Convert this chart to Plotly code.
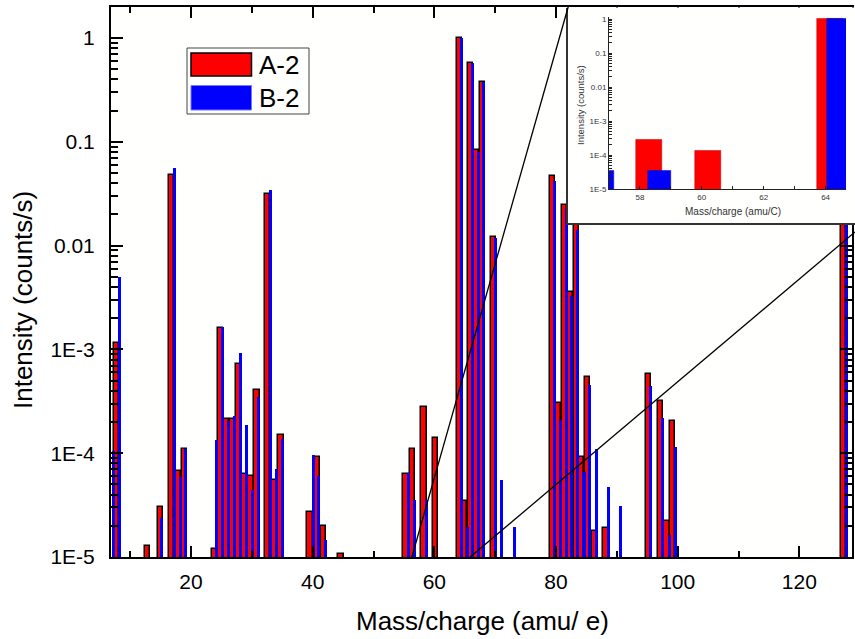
import plotly.graph_objects as go

# ---------------- data ----------------
a2_mass = [7.72, 12.9, 14.95, 16.8, 17.95, 18.9, 23.85, 24.85, 25.85, 26.8, 27.75, 28.7, 29.85, 30.85,
           32.6, 33.7, 34.8, 39.55, 40.75, 41.8, 44.65, 55.35, 56.35, 58.3, 60.2, 64.15, 65.0, 65.9,
           66.9, 67.85, 69.75, 79.37, 80.45, 81.4, 82.3, 83.3, 84.25, 85.2, 86.3, 88.2, 95.15, 97.2,
           98.25, 99.2, 127.3]
a2_int = [1.15e-3, 1.27e-5, 3.0e-5, 0.048, 6.8e-5, 1.1e-4, 1.19e-5, 1.61e-3, 2.15e-4, 2.15e-4, 7.26e-4,
          6.35e-5, 6.1e-5, 4.11e-4, 0.0315, 5.56e-5, 1.51e-4, 2.7e-5, 9.1e-5, 1.99e-5, 1.06e-5, 6.25e-5,
          1.09e-4, 2.78e-4, 1.4e-4, 1.0, 3.44e-5, 0.58, 0.084, 0.381, 0.012, 0.0472, 3.06e-4, 0.0248,
          3.6e-3, 0.0158, 9.3e-5, 5.48e-4, 1.77e-5, 1.9e-5, 5.82e-4, 3.22e-4, 2.24e-5, 2.05e-4, 0.2]

b2_mass = [7.2, 8.22, 15.2, 17.26, 18.25, 19.17, 24.2, 25.2, 26.15, 27.1, 28.1, 29.1, 30.1, 31.05,
           33.1, 34.1, 35.05, 40.1, 40.95, 42.05, 55.73, 56.8, 58.63, 64.4, 65.37, 66.2, 67.2, 68.1,
           70.0, 71.07, 73.1, 79.73, 80.75, 81.65, 82.58, 83.57, 84.6, 85.58, 86.6, 88.6, 90.58, 95.55,
           97.54, 98.58, 99.57, 127.75]
b2_int = [1.06e-4, 4.96e-3, 2.4e-5, 0.056, 5.9e-5, 1.1e-4, 1.33e-4, 1.63e-3, 2.05e-4, 2.3e-4, 9.27e-4,
          1.88e-4, 4.4e-5, 3.52e-4, 0.0344, 6.98e-5, 1.38e-4, 9.7e-5, 6.0e-5, 1.47e-5, 6.4e-5, 3.57e-5,
          3.57e-5, 1.0, 1.94e-5, 0.57, 0.08, 0.38, 0.0118, 5.55e-5, 1.94e-5, 0.042, 2.1e-4, 0.0225,
          3.25e-3, 0.0141, 6.6e-5, 4.56e-4, 1.09e-4, 4.7e-5, 3.07e-5, 4.4e-4, 2.19e-4, 1.62e-5, 1.15e-4, 0.2]

series_names = ["A-2", "B-2"]
x_major = [20, 40, 60, 80, 100, 120]
x_minor = [10, 30, 50, 70, 90, 110]
y_major = [1e-5, 1e-4, 1e-3, 1e-2, 1e-1, 1]
y_major_text = ["1E-5", "1E-4", "1E-3", "0.01", "0.1", "1"]
inset_x_ticks = [57, 58, 59, 60, 61, 62, 63, 64]
inset_x_text = ["", "58", "", "60", "", "62", "", "64"]
zoom_from, zoom_to = 56.3, 65.9

# ---------------- layout geometry ----------------
W, H = 855, 639
L, R, T, B = 111, 0, 7, 82
PW, PH = W - L - R, H - T - B
XR = [6.85, 128.65]
YR = [-5, 0.30]
main_xdom_end = (852 - L) / PW


def fx(px):
    return (px - L) / PW


def fy(py):
    return (H - B - py) / PH


def data_to_fx(x):
    return (x - XR[0]) / (XR[1] - XR[0]) * main_xdom_end


y_minor = [k * 10 ** e for e in range(-5, 1) for k in range(2, 10) if k * 10 ** e <= 2]
inset_y_ticks = y_major + [v for v in y_minor if v < 1]
inset_y_text = y_major_text + ["" for v in y_minor if v < 1]

FONT = "Arial, Liberation Sans, sans-serif"
RED, BLUE = "#ff0000", "#0000ff"

fig = go.Figure()

# main bars
fig.add_trace(go.Bar(x=a2_mass, y=a2_int, width=0.85, name=series_names[0],
                     marker=dict(color=RED, line=dict(color="black", width=1.5)),
                     xaxis="x", yaxis="y", showlegend=False))
fig.add_trace(go.Bar(x=b2_mass, y=b2_int, width=0.5, name=series_names[1],
                     marker=dict(color=BLUE, line=dict(width=0)),
                     xaxis="x", yaxis="y", showlegend=False))
# white inset box (empty subplot)
fig.add_trace(go.Scatter(x=[None], y=[None], xaxis="x2", yaxis="y2", showlegend=False, hoverinfo="skip"))
# inset bars
fig.add_trace(go.Bar(x=a2_mass, y=a2_int, width=0.85, name=series_names[0],
                     marker=dict(color=RED, line=dict(color="#aa0000", width=0.5)),
                     xaxis="x3", yaxis="y3", showlegend=False))
fig.add_trace(go.Bar(x=b2_mass, y=b2_int, width=0.73, name=series_names[1],
                     marker=dict(color=BLUE, line=dict(color="#0000aa", width=0.5)),
                     xaxis="x3", yaxis="y3", showlegend=False))

axis_font = dict(family=FONT, size=21, color="black")

fig.update_layout(
    width=W, height=H,
    margin=dict(l=L, r=R, t=T, b=B),
    paper_bgcolor="white", plot_bgcolor="#fffffe",
    barmode="overlay", bargap=0, showlegend=False,
    font=dict(family=FONT, color="black"),
    xaxis=dict(domain=[0, main_xdom_end], range=XR, anchor="y",
               showline=True, linecolor="black", linewidth=2, mirror="ticks",
               ticks="inside", ticklen=11, tickwidth=2, tickcolor="black",
               tickmode="array", tickvals=x_major, ticktext=[str(v) for v in x_major],
               minor=dict(tickmode="array", tickvals=x_minor, ticks="inside", ticklen=6,
                          tickwidth=2, tickcolor="black", showgrid=False),
               tickfont=axis_font, ticklabelstandoff=5,
               showgrid=False, zeroline=False),
    yaxis=dict(domain=[0, 1], type="log", range=YR, anchor="x",
               showline=True, linecolor="black", linewidth=2, mirror="ticks",
               ticks="inside", ticklen=12, tickwidth=2, tickcolor="black",
               tickmode="array", tickvals=y_major, ticktext=y_major_text,
               minor=dict(tickmode="array", tickvals=y_minor, ticks="inside", ticklen=7,
                          tickwidth=1.5, tickcolor="black", showgrid=False),
               tickfont=axis_font, ticklabelstandoff=10,
               showgrid=False, zeroline=False),
    # white inset box
    xaxis2=dict(domain=[fx(567.5), 1.0], range=[0, 1], anchor="y2",
                showline=True, linecolor="#333333", linewidth=1.5,
                ticks="", showticklabels=False, showgrid=False, zeroline=False),
    yaxis2=dict(domain=[fy(223), fy(7.5)], range=[0, 1], anchor="x2",
                showline=True, linecolor="#333333", linewidth=1.5,
                ticks="", showticklabels=False, showgrid=False, zeroline=False),
    # inset axes
    xaxis3=dict(domain=[fx(609), fx(846)], range=[57.0, 64.66], anchor="y3",
                showline=True, linecolor="#222222", linewidth=1,
                ticks="inside", ticklen=3, tickwidth=1, tickcolor="#222222",
                tickmode="array", tickvals=inset_x_ticks, ticktext=inset_x_text,
                tickfont=dict(family=FONT, size=8, color="#333333"),
                showgrid=False, zeroline=False),
    yaxis3=dict(domain=[fy(189.3), fy(16.7)], type="log", range=[-5, 0.068], anchor="x3",
                showline=True, linecolor="#222222", linewidth=1,
                ticks="inside", ticklen=3, tickwidth=0.8, tickcolor="#222222",
                tickmode="array", tickvals=inset_y_ticks, ticktext=inset_y_text,
                tickfont=dict(family=FONT, size=8, color="#333333"),
                showgrid=False, zeroline=False),
)

shapes = []
# zoom connector lines
shapes.append(dict(type="line", xref="paper", yref="paper", layer="above",
                   x0=data_to_fx(zoom_from), y0=0, x1=fx(568.3), y1=fy(6.5),
                   line=dict(color="black", width=1.3)))
shapes.append(dict(type="line", xref="paper", yref="paper", layer="above",
                   x0=data_to_fx(zoom_to), y0=0, x1=fx(855), y1=fy(232),
                   line=dict(color="black", width=1.3)))
# legend box and swatches
shapes.append(dict(type="rect", xref="paper", yref="paper", layer="above",
                   x0=fx(187), x1=fx(309), y0=fy(114), y1=fy(48),
                   line=dict(color="#444444", width=1)))
shapes.append(dict(type="rect", xref="paper", yref="paper", layer="above",
                   x0=fx(191), x1=fx(251.5), y0=fy(76), y1=fy(53),
                   line=dict(color="black", width=1.5), fillcolor=RED))
shapes.append(dict(type="rect", xref="paper", yref="paper", layer="above",
                   x0=fx(191), x1=fx(251.5), y0=fy(110), y1=fy(85.5),
                   line=dict(color="#7777ff", width=1), fillcolor=BLUE))
fig.update_layout(shapes=shapes)

ann = []
ann.append(dict(text=series_names[0], xref="paper", yref="paper", x=fx(257), y=fy(65),
                xanchor="left", yanchor="middle", showarrow=False,
                font=dict(family=FONT, size=26, color="black")))
ann.append(dict(text=series_names[1], xref="paper", yref="paper", x=fx(257), y=fy(98),
                xanchor="left", yanchor="middle", showarrow=False,
                font=dict(family=FONT, size=26, color="black")))
ann.append(dict(text="Mass/charge (amu/ e)", xref="paper", yref="paper", x=fx(482.5), y=fy(621),
                xanchor="center", yanchor="middle", showarrow=False,
                font=dict(family=FONT, size=26, color="black")))
ann.append(dict(text="Intensity (counts/s)", xref="paper", yref="paper", x=fx(23), y=fy(300),
                xanchor="center", yanchor="middle", textangle=-90, showarrow=False,
                font=dict(family=FONT, size=26, color="black")))
ann.append(dict(text="Mass/charge (amu/C)", xref="paper", yref="paper", x=fx(733), y=fy(211.5),
                xanchor="center", yanchor="middle", showarrow=False,
                font=dict(family=FONT, size=10, color="#333333")))
ann.append(dict(text="Intensity (counts/s)", xref="paper", yref="paper", x=fx(580), y=fy(105),
                xanchor="center", yanchor="middle", textangle=-90, showarrow=False,
                font=dict(family=FONT, size=9.5, color="#333333")))
fig.update_layout(annotations=ann)

fig.write_html("out.html")
